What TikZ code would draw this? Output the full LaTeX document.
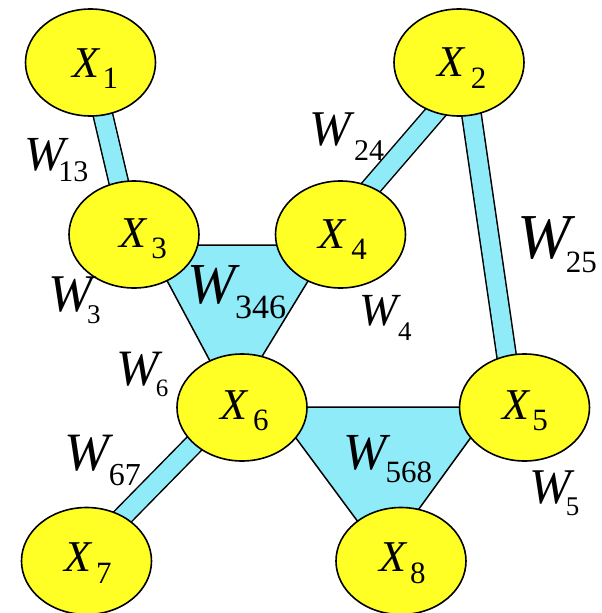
\documentclass[tikz,border=0pt]{standalone}
\usepackage{fontspec}
\setmainfont{Liberation Serif}
\usetikzlibrary{shapes.geometric,calc,backgrounds}
\definecolor{nodeyellow}{RGB}{255,255,38}
\definecolor{bandcyan}{RGB}{143,235,248}
\newcommand\lbl[6]{\rlap{\fontsize{#2}{#2}\selectfont\itshape #1}\hspace*{#5pt}\raisebox{-#6pt}{\fontsize{#4}{#4}\selectfont #3}}
\tikzset{
  varnode/.style={ellipse, draw=black, fill=nodeyellow, line width=1.6pt,
    minimum width=130pt, minimum height=107pt, inner sep=0pt},
  bandouter/.style={draw=black, line width=21pt},
  bandinner/.style={draw=bandcyan, line width=18pt},
  tri/.style={fill=bandcyan, draw=black, line width=1.5pt, line join=miter},
  lab/.style={anchor=base west, inner sep=0pt, outer sep=0pt}
}
\begin{document}
\begin{tikzpicture}[x=1pt,y=-1pt]
\useasboundingbox (0,0) rectangle (602,613);
% variable nodes
\node[varnode] (x1) at (90.5,62.5) {};
\node[varnode] (x2) at (459,62.5) {};
\node[varnode] (x3) at (134,234.5) {};
\node[varnode] (x4) at (340.5,234.5) {};
\node[varnode] (x5) at (524.5,407.5) {};
\node[varnode] (x6) at (242,407.5) {};
\node[varnode] (x7) at (86.5,561) {};
\node[varnode] (x8) at (401,561) {};
\begin{pgfonlayer}{background}
  % pairwise bands
  \coordinate (b13a) at ($(x1)+(0.1,0)$);  \coordinate (b13b) at ($(x3)+(-3,0)$);
  \coordinate (b24a) at ($(x2)+(19.6,0)$); \coordinate (b24b) at ($(x4)+(-10.2,0)$);
  \coordinate (b25a) at ($(x2)+(4.9,0)$);  \coordinate (b25b) at ($(x5)+(-10.4,0)$);
  \coordinate (b67a) at ($(x6)+(-12.2,0)$); \coordinate (b67b) at ($(x7)+(-7.3,0)$);
  \foreach \a/\b in {b13a/b13b,b24a/b24b,b25a/b25b,b67a/b67b}{
    \draw[bandouter] (\a) -- (\b);
    \draw[bandinner] (\a) -- (\b);
  }
  % triangles
  \draw[tri] ($(x3)+(14,10.5)$) -- ($(x4)+(-10.5,10.5)$) -- ($(x6)+(-9,-3.5)$) -- cycle;
  \draw[tri] ($(x6)+(31,-0.5)$) -- ($(x5)+(-31.5,-0.5)$) -- ($(x8)+(-17,-4)$) -- cycle;
\end{pgfonlayer}
% node labels
\node[lab] (lx1) at (72.3,77)    {\lbl{X}{44}{1}{31}{30.3}{11.3}};
\node[lab] (lx2) at (437.3,76.7) {\lbl{X}{44}{2}{31}{33.5}{11.3}};
\node[lab] (lx3) at (119.6,247.3){\lbl{X}{44}{3}{31}{31.8}{11.3}};
\node[lab] (lx4) at (318,248.3)  {\lbl{X}{44}{4}{31}{33.3}{11.3}};
\node[lab] (lx5) at (502.3,419.3){\lbl{X}{44}{5}{31}{30}{11.3}};
\node[lab] (lx6) at (220.3,419.3){\lbl{X}{44}{6}{31}{32.7}{11.3}};
\node[lab] (lx7) at (64.6,571.7) {\lbl{X}{44}{7}{31}{31.5}{11.3}};
\node[lab] (lx8) at (379.6,571.7){\lbl{X}{44}{8}{31}{30.4}{11.3}};
% weight labels
\node[lab] (w13)  at (24.8,170)   {\lbl{W}{49}{13}{30}{33.6}{11.7}};
\node[lab] (w24)  at (309.8,145)  {\lbl{W}{50}{24}{30}{44.3}{15}};
\node[lab] (w25)  at (517.2,258.3){\lbl{W}{64}{25}{31}{48.6}{14.4}};
\node[lab] (w3)   at (48.9,311.7) {\lbl{W}{53}{3}{27}{38.2}{11.6}};
\node[lab] (w6)   at (116.4,385)  {\lbl{W}{51}{6}{25}{39.4}{11.7}};
\node[lab] (w67)  at (64.5,470)   {\lbl{W}{54}{67}{32}{44.4}{15}};
\node[lab] (w346) at (187.6,303.3){\lbl{W}{58}{346}{34}{47.6}{15}};
\node[lab] (w4)   at (359.4,325)  {\lbl{W}{46}{4}{27}{38.6}{15}};
\node[lab] (w568) at (343,469.3)  {\lbl{W}{52}{568}{31}{42.7}{13.4}};
\node[lab] (w5)   at (529.2,503)  {\lbl{W}{50}{5}{27}{36.6}{12}};
\end{tikzpicture}
\end{document}
